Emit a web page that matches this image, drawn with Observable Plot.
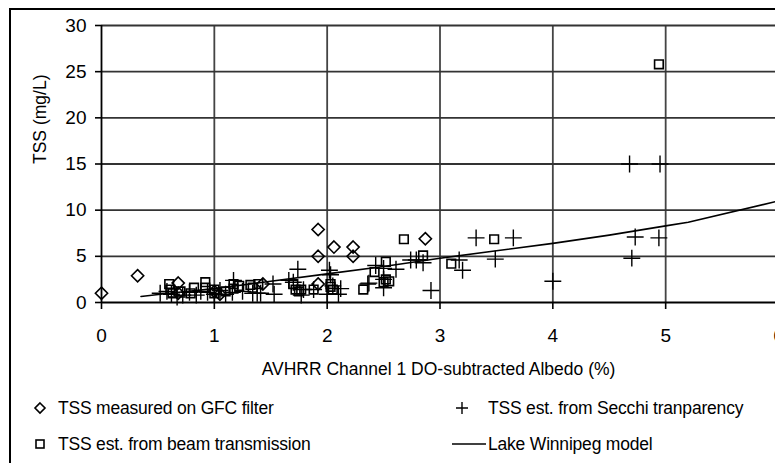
<!DOCTYPE html>
<html><head><meta charset="utf-8">
<script src="https://cdn.jsdelivr.net/npm/d3@7"></script>
<script src="https://cdn.jsdelivr.net/npm/@observablehq/plot@0.6"></script>
<style>
body{margin:0;background:#fff;font-family:"Liberation Sans",Arial,sans-serif;}
#wrap{position:relative;width:775px;height:463px;overflow:hidden;background:#fff;}
#chart{position:absolute;left:0;top:0;}
#legend{position:absolute;left:0;top:390px;width:775px;height:73px;font-size:17.5px;color:#000;}
.item{position:absolute;height:20px;line-height:20px;white-space:nowrap;letter-spacing:-0.2px;}
.item svg{position:absolute;top:0;}
#frame{position:absolute;left:0;top:0;pointer-events:none;}
</style></head><body>
<div id="wrap"><div id="chart"></div><div id="legend"></div><svg id="frame" width="775" height="463"><path d="M10,463 V9 H775" fill="none" stroke="#000" stroke-width="2"/></svg></div>
<script>
const xTicks = [0, 1, 2, 3, 4, 5, 6];
const yTicks = [0, 5, 10, 15, 20, 25, 30];
const xTitle = "AVHRR Channel 1 DO-subtracted Albedo (%)";
const yTitle = "TSS (mg/L)";
const seriesNames = ["TSS measured on GFC filter", "TSS est. from Secchi tranparency", "TSS est. from beam transmission", "Lake Winnipeg model"];

// TSS measured on GFC filter (diamonds)
const gfcX = [0, 0.32, 0.68, 1.43, 1.92, 1.92, 2.06, 2.23, 2.23, 1.92, 2.87, 0.68, 1.0, 1.05];
const gfcY = [1.0, 2.9, 2.1, 2.0, 2.0, 7.9, 6.0, 6.0, 5.0, 5.0, 6.9, 1.0, 1.2, 0.9];

// TSS est. from beam transmission (squares)
const beamX = [4.94, 2.68, 3.48, 2.85, 3.1, 2.52, 2.42, 2.52, 2.5, 2.55, 2.32, 2.03, 2.03, 2.05, 1.70, 1.72, 1.77, 1.88, 1.75, 0.60, 0.61, 0.63, 0.92, 0.92, 0.79, 0.82, 1.17, 1.17, 1.32, 1.0, 1.22, 1.39, 1.34, 0.7, 1.0, 1.1];
const beamY = [25.8, 6.85, 6.85, 5.1, 4.2, 4.4, 3.3, 2.5, 2.2, 2.3, 1.4, 2.0, 1.7, 1.4, 2.0, 1.4, 1.4, 1.4, 1.2, 2.0, 1.4, 1.0, 2.2, 1.6, 1.0, 1.6, 2.0, 1.5, 1.9, 1.4, 1.8, 2.0, 1.6, 1.2, 1.0, 1.2];

// TSS est. from Secchi transparency (plus signs)
const secchiX = [4.68, 4.95, 4.73, 4.94, 4.70, 3.32, 3.65, 3.49, 3.17, 3.2, 4.0, 2.92, 2.74, 2.79, 2.85, 1.74, 2.02, 2.03, 2.43, 2.37, 2.5, 2.61, 2.5, 2.1, 2.0, 1.77, 1.53, 1.38, 1.41, 1.66, 1.79, 1.88, 0.52, 0.67, 0.84, 0.94, 1.16, 1.17, 1.34, 1.52, 1.70, 2.36, 0.58, 0.62, 0.72, 0.78, 0.88, 1.0, 1.05, 1.1, 1.25, 2.05, 2.5, 2.12];
const secchiY = [15, 15, 7.1, 7.0, 4.8, 7.0, 7.0, 4.7, 4.6, 3.5, 2.3, 1.3, 4.6, 4.6, 4.3, 3.6, 3.5, 3.0, 4.0, 2.1, 1.6, 3.6, 3.7, 0.9, 0.9, 0.8, 0.9, 1.0, 1.0, 2.4, 1.4, 1.4, 1.0, 0.6, 0.8, 1.1, 1.1, 2.4, 1.0, 2.0, 2.2, 2.0, 1.2, 0.9, 0.8, 1.1, 1.2, 0.9, 1.3, 0.9, 1.2, 1.8, 2.5, 1.5];

// Lake Winnipeg model (line)
const modelX = [0.35, 0.6, 1.0, 1.5, 2.0, 2.5, 3.0, 3.5, 4.0, 4.5, 5.0, 5.2, 6.0];
const modelY = [0.65, 1.0, 1.5, 2.3, 3.1, 3.9, 4.8, 5.6, 6.4, 7.3, 8.3, 8.7, 11.0];

const toRows = (xs, ys) => xs.map((x, i) => ({x, y: ys[i]}));
const gfc = toRows(gfcX, gfcY);
const beam = toRows(beamX, beamY);
const secchi = toRows(secchiX, secchiY);
const model = toRows(modelX, modelY);
const gridXRows = xTicks.slice(1).map(v => ({v}));
const gridYRows = yTicks.slice(1).map(v => ({v}));

const chart = Plot.plot({
  width: 775, height: 390,
  marginLeft: 101, marginRight: 0, marginTop: 25, marginBottom: 88,
  style: {fontFamily: "Liberation Sans, Arial, sans-serif", fontSize: "19px", color: "#000", background: "transparent", overflow: "visible"},
  x: {domain: [0, 6], range: [101, 778]},
  y: {domain: [0, 30], range: [302, 25]},
  marks: [
    Plot.ruleX(gridXRows, {x: "v", y1: 0, y2: 30, stroke: "#444", strokeWidth: 1.8}),
    Plot.ruleY(gridYRows, {y: "v", x1: 0, x2: 6, stroke: "#333", strokeWidth: 1.8}),
    Plot.ruleX([0], {stroke: "#000", strokeWidth: 1.8}),
    Plot.ruleY([0], {stroke: "#000", strokeWidth: 1.8}),
    Plot.axisX(xTicks, {tickSize: 7, tickPadding: 19, label: null, fontSize: 19, strokeWidth: 1.6}),
    Plot.axisY(yTicks, {tickSize: 6, tickPadding: 9, label: null, fontSize: 19, strokeWidth: 1.6}),
    Plot.line(model, {x: "x", y: "y", stroke: "#000", strokeWidth: 1.6}),
    Plot.dot(secchi, {x: "x", y: "y", symbol: "plus", r: 5.5, stroke: "#000", strokeWidth: 1.4}),
    Plot.dot(beam, {x: "x", y: "y", symbol: "square2", r: 5.5, stroke: "#000", fill: "none", strokeWidth: 1.6}),
    Plot.dot(gfc, {x: "x", y: "y", symbol: "diamond2", r: 5.5, stroke: "#000", fill: "none", strokeWidth: 1.6}),
    Plot.text([xTitle], {frameAnchor: "bottom", dy: 72, fontSize: 17.5, fill: "#000"}),
    Plot.text([yTitle], {frameAnchor: "left", dx: -61, rotate: -90, fontSize: 17.5, fill: "#000"})
  ]
});
document.getElementById("chart").appendChild(chart);

const legendItems = [
  {name: seriesNames[0], kind: "diamond", left: 30, top: 8},
  {name: seriesNames[1], kind: "plus", left: 452, top: 8},
  {name: seriesNames[2], kind: "square", left: 30, top: 44},
  {name: seriesNames[3], kind: "line", left: 452, top: 44}
];
const lg = document.getElementById("legend");
for (const it of legendItems) {
  const div = document.createElement("div");
  div.className = "item";
  div.style.left = it.left + "px";
  div.style.top = it.top + "px";
  let sym = "";
  if (it.kind === "diamond") sym = '<svg width="20" height="20" style="left:0"><path d="M10,5 L15,10 L10,15 L5,10 Z" fill="none" stroke="#000" stroke-width="1.6"/></svg>';
  if (it.kind === "square") sym = '<svg width="20" height="20" style="left:0"><rect x="6" y="6" width="8" height="8" fill="none" stroke="#000" stroke-width="1.6"/></svg>';
  if (it.kind === "plus") sym = '<svg width="20" height="20" style="left:0"><path d="M10,4 V16 M4,10 H16" stroke="#000" stroke-width="1.4"/></svg>';
  if (it.kind === "line") sym = '<svg width="36" height="20" style="left:0"><path d="M0,10 H34" stroke="#000" stroke-width="1.6"/></svg>';
  const pad = it.kind === "line" ? 36 : (it.kind === "plus" ? 36 : 28);
  div.innerHTML = sym + '<span style="padding-left:' + pad + 'px">' + it.name + '</span>';
  lg.appendChild(div);
}
</script>
</body></html>
